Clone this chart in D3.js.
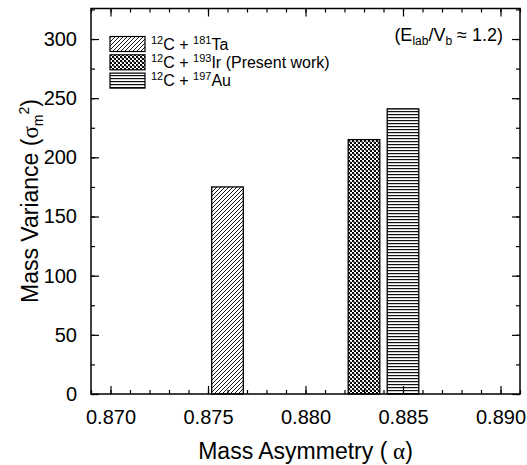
<!DOCTYPE html>
<html><head><meta charset="utf-8">
<script src="https://cdn.jsdelivr.net/npm/d3@7"></script>
<style>body{margin:0;background:#fff}svg{display:block}text{font-family:"Liberation Sans",Arial,sans-serif;fill:#000}</style>
</head><body><svg id="c" width="527" height="465"></svg>
<script>
const systems = ["Ta", "Ir", "Au"];
const targetMass = ["181", "193", "197"];
const targetSym = ["Ta", "Ir", "Au"];
const legendSuffix = ["", " (Present work)", ""];
const alphaValues = [0.8760, 0.8830, 0.8850];
const varianceValues = [175, 215, 241];
const barWidthAlpha = 0.00162;
const xTicks = [0.870, 0.875, 0.880, 0.885, 0.890];
const yTicks = [0, 50, 100, 150, 200, 250, 300];

const svg = d3.select("#c");
const L = 91, R = 520, T = 8.5, B = 394;
const x = d3.scaleLinear().domain([0.869, 0.891]).range([L, R]);
const y = d3.scaleLinear().domain([0, 325.8]).range([B, T]);

const defs = svg.append("defs");
// diagonal hatch
const p1 = defs.append("pattern").attr("id","pTa").attr("patternUnits","userSpaceOnUse")
  .attr("width",4).attr("height",4);
p1.append("rect").attr("width",4).attr("height",4).attr("fill","#fff");
p1.append("path").attr("d","M-1,1 l2,-2 M0,4 l4,-4 M3,5 l2,-2").attr("stroke","#000").attr("stroke-width",0.9);
// checker crosshatch
const p2 = defs.append("pattern").attr("id","pIr").attr("patternUnits","userSpaceOnUse")
  .attr("width",4).attr("height",4);
p2.append("rect").attr("width",4).attr("height",4).attr("fill","#fff");
p2.append("rect").attr("x",0).attr("y",0).attr("width",2).attr("height",2).attr("fill","#000");
p2.append("rect").attr("x",2).attr("y",2).attr("width",2).attr("height",2).attr("fill","#000");
p2.append("rect").attr("x",1).attr("y",1).attr("width",2).attr("height",2).attr("fill","#444").attr("opacity",0.5);
// horizontal lines
const p3 = defs.append("pattern").attr("id","pAu").attr("patternUnits","userSpaceOnUse")
  .attr("width",4).attr("height",3);
p3.append("rect").attr("width",4).attr("height",3).attr("fill","#fff");
p3.append("rect").attr("y",0).attr("width",4).attr("height",1.2).attr("fill","#111");
const fills = ["url(#pTa)","url(#pIr)","url(#pAu)"];

// bars
svg.append("g").selectAll("rect").data(alphaValues).join("rect")
  .attr("x", d => x(d - barWidthAlpha/2))
  .attr("width", d => x(d + barWidthAlpha/2) - x(d - barWidthAlpha/2))
  .attr("y", (d,i) => y(varianceValues[i]))
  .attr("height", (d,i) => y(0) - y(varianceValues[i]))
  .attr("fill", (d,i) => fills[i])
  .attr("stroke","#000").attr("stroke-width",1.3);

// axes with inward ticks
const xMinor = d3.range(0.869, 0.8915, 0.001).map(v => +v.toFixed(3));
const yMinor = d3.range(0, 326, 25);
const gx = svg.append("g").attr("transform",`translate(0,${B})`)
  .call(d3.axisBottom(x).tickValues(xTicks).tickFormat(d3.format(".3f")).tickSizeInner(-8).tickSizeOuter(0).tickPadding(16));
const gxm = svg.append("g").attr("transform",`translate(0,${B})`)
  .call(d3.axisBottom(x).tickValues(xMinor).tickFormat("").tickSizeInner(-4).tickSizeOuter(0));
const gxt = svg.append("g").attr("transform",`translate(0,${T})`)
  .call(d3.axisTop(x).tickValues(xTicks).tickFormat("").tickSizeInner(-8).tickSizeOuter(0));
const gxtm = svg.append("g").attr("transform",`translate(0,${T})`)
  .call(d3.axisTop(x).tickValues(xMinor).tickFormat("").tickSizeInner(-4).tickSizeOuter(0));
const gy = svg.append("g").attr("transform",`translate(${L},0)`)
  .call(d3.axisLeft(y).tickValues(yTicks).tickSizeInner(-8).tickSizeOuter(0).tickPadding(14));
const gym = svg.append("g").attr("transform",`translate(${L},0)`)
  .call(d3.axisLeft(y).tickValues(yMinor).tickFormat("").tickSizeInner(-4).tickSizeOuter(0));
const gyr = svg.append("g").attr("transform",`translate(${R},0)`)
  .call(d3.axisRight(y).tickValues(yTicks).tickFormat("").tickSizeInner(-8).tickSizeOuter(0));
const gyrm = svg.append("g").attr("transform",`translate(${R},0)`)
  .call(d3.axisRight(y).tickValues(yMinor).tickFormat("").tickSizeInner(-4).tickSizeOuter(0));
[gx,gxm,gxt,gxtm,gy,gym,gyr,gyrm].forEach(g => {
  g.select(".domain").remove();
  g.selectAll("line").attr("stroke","#000").attr("stroke-width",1.2);
  g.selectAll("text").attr("font-size",20).attr("font-family","Liberation Sans, Arial, sans-serif").attr("fill","#000");
});
svg.append("rect").attr("x",L).attr("y",T).attr("width",R-L).attr("height",B-T)
  .attr("fill","none").attr("stroke","#000").attr("stroke-width",1.5);

// axis titles
const xt = svg.append("text").attr("x",(L+R)/2).attr("y",459).attr("text-anchor","middle").attr("font-size",23);
xt.append("tspan").text("Mass Asymmetry (");
xt.append("tspan").attr("font-family","Liberation Serif, Times New Roman, serif").text(" α");
xt.append("tspan").text(")");

const yt = svg.append("text").attr("transform","translate(38,201) rotate(-90)").attr("text-anchor","middle").attr("font-size",23);
yt.append("tspan").text("Mass Variance (");
yt.append("tspan").attr("font-family","Liberation Serif, Times New Roman, serif").text("σ");
yt.append("tspan").attr("font-size",14).attr("dy",5).text("m");
yt.append("tspan").attr("font-size",14).attr("dy",-14).text("2");
yt.append("tspan").attr("dy",9).text(")");

// annotation
const an = svg.append("text").attr("x",503).attr("y",41).attr("text-anchor","end").attr("font-size",18);
an.append("tspan").text("(E");
an.append("tspan").attr("font-size",12).attr("dy",4).text("lab");
an.append("tspan").attr("dy",-4).text("/V");
an.append("tspan").attr("font-size",12).attr("dy",4).text("b");
an.append("tspan").attr("dy",-4).text(" ≈ 1.2)");

// legend
const lg = svg.append("g");
systems.forEach((s,i) => {
  const by = 36.5 + i*18.3;
  lg.append("rect").attr("x",110).attr("y",by).attr("width",35).attr("height",15)
    .attr("fill",fills[i]).attr("stroke","#000").attr("stroke-width",1.2);
  const t = lg.append("text").attr("x",151).attr("y",by+13).attr("font-size",16);
  t.append("tspan").attr("font-size",11).attr("dy",-6).text("12");
  t.append("tspan").attr("dy",6).text("C + ");
  t.append("tspan").attr("font-size",11).attr("dy",-6).text(targetMass[i]);
  t.append("tspan").attr("dy",6).text(targetSym[i] + legendSuffix[i]);
});
</script></body></html>
